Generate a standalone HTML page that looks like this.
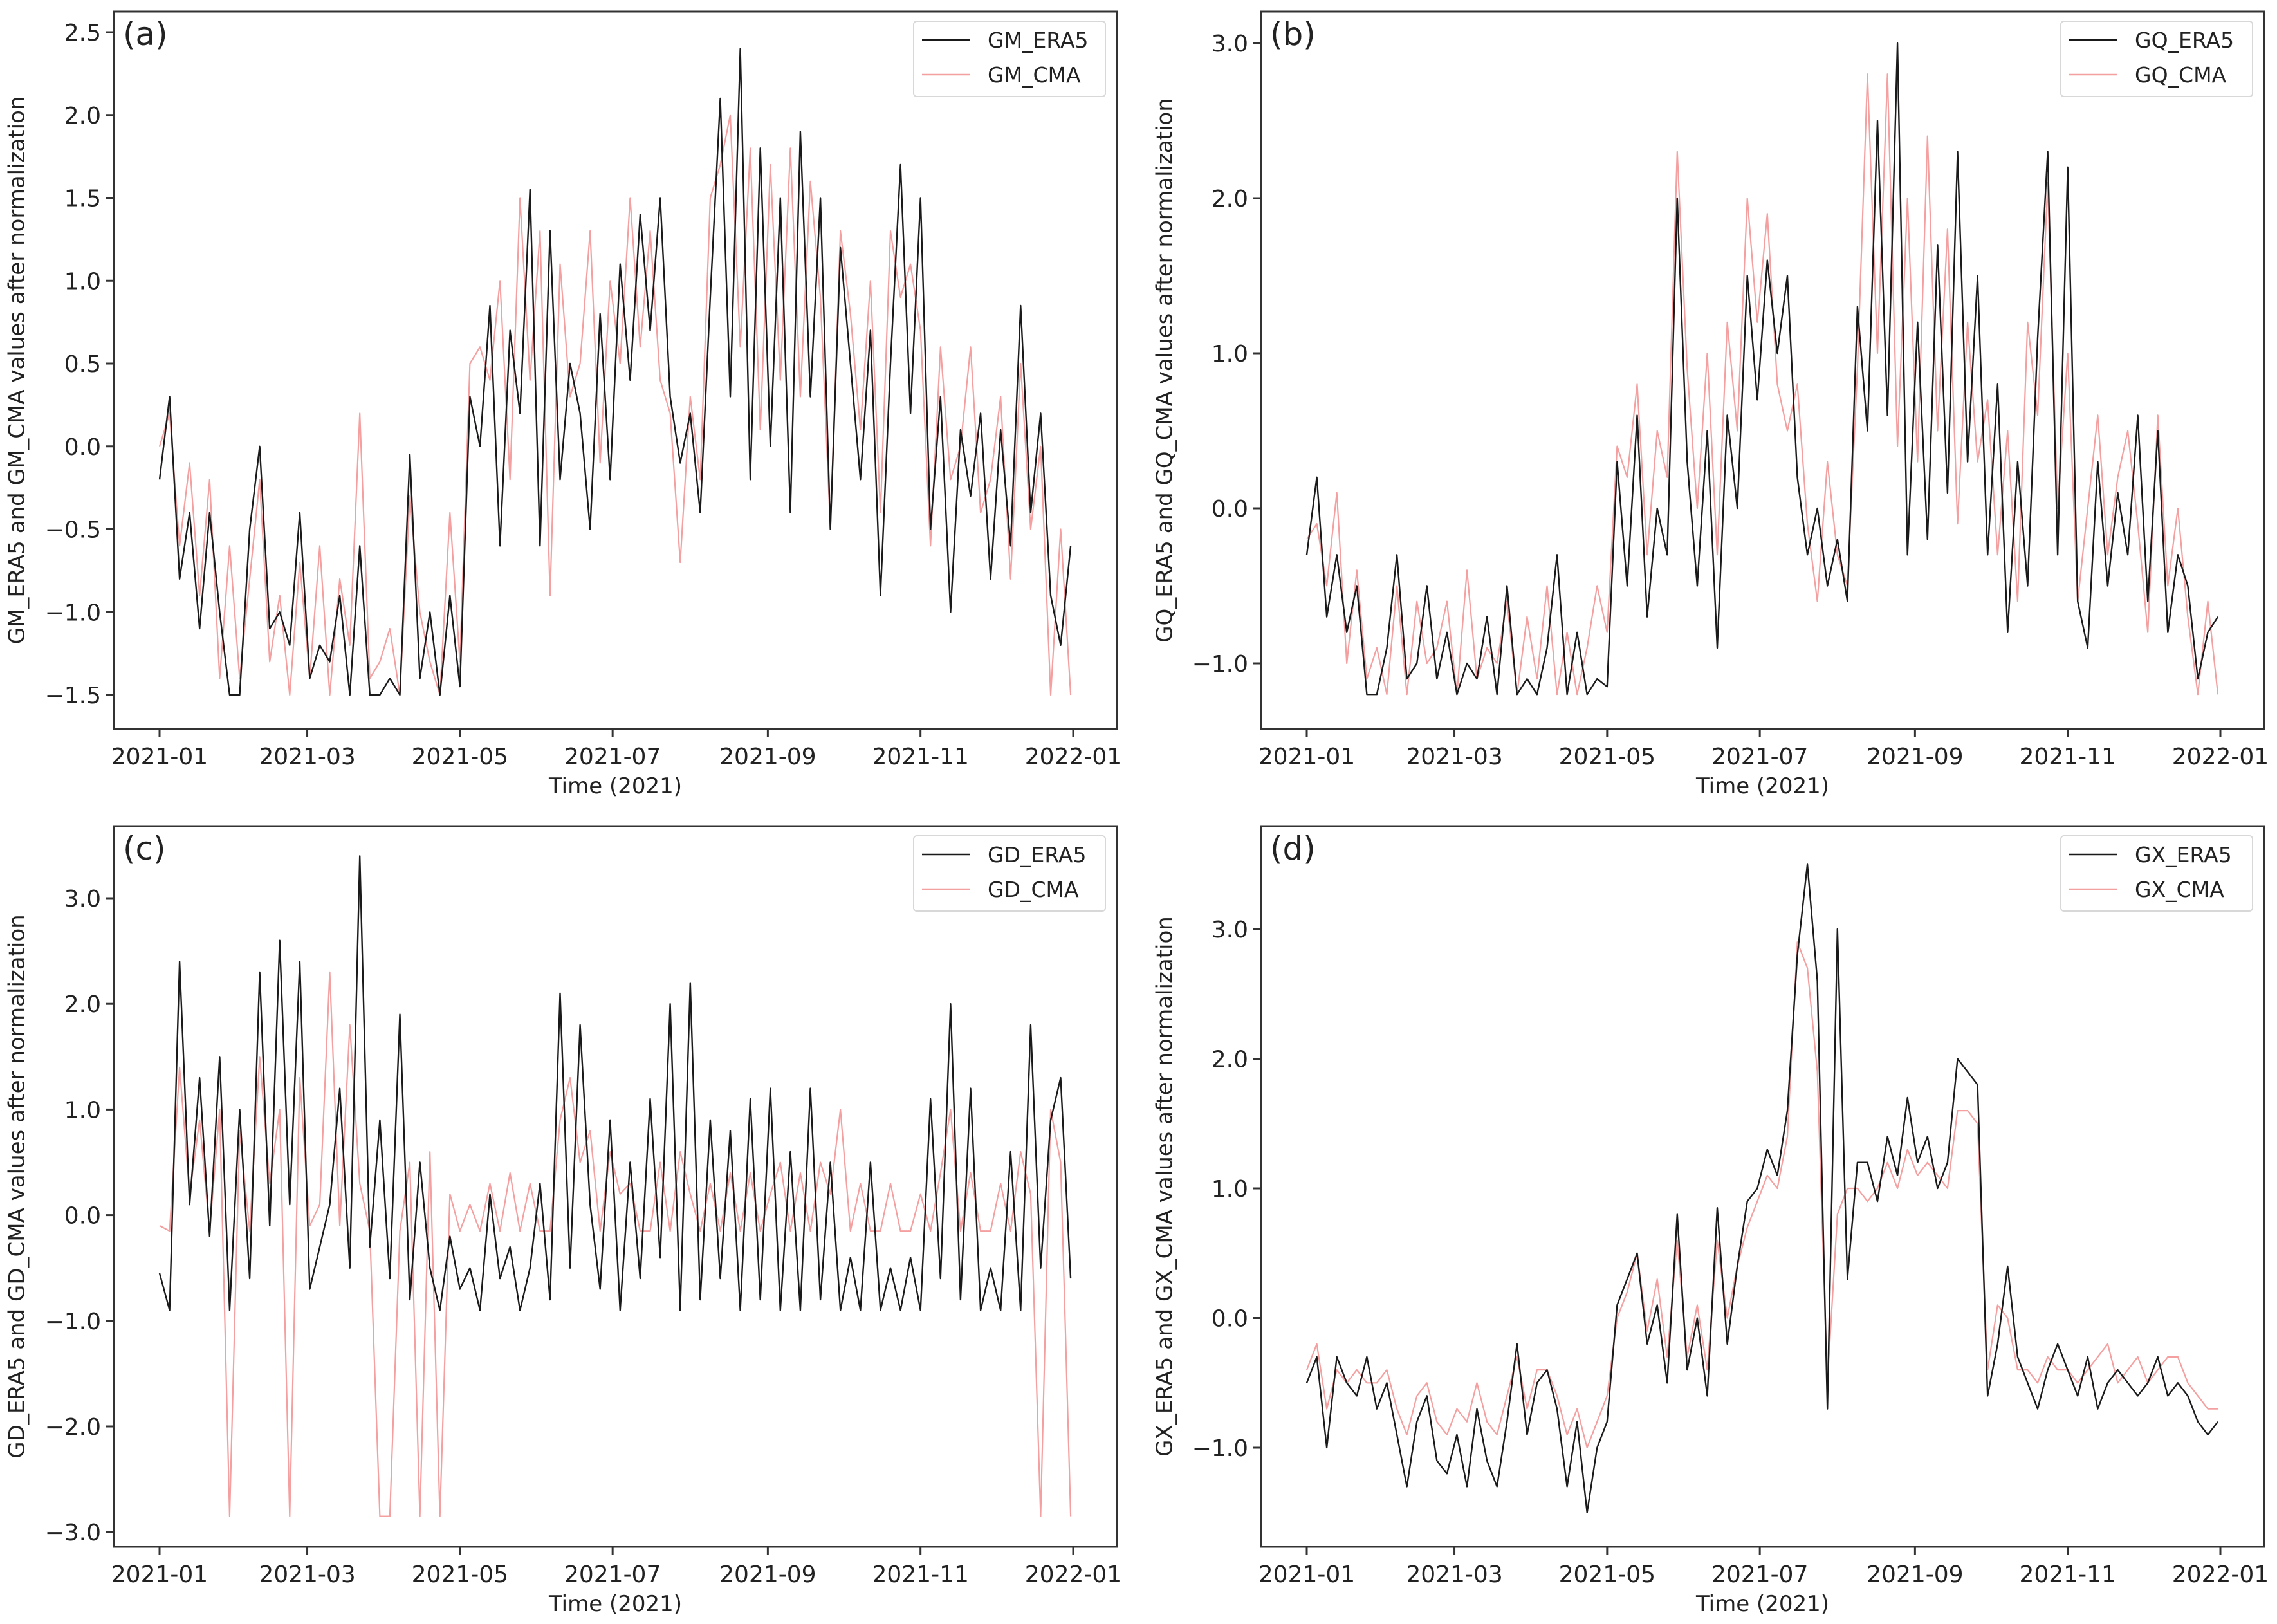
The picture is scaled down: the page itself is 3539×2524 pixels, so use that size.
<!DOCTYPE html>
<html><head><meta charset="utf-8">
<style>
html,body{margin:0;padding:0;background:#fff;}
svg{display:block;font-family:"DejaVu Sans","Liberation Sans",sans-serif;}
</style></head>
<body>
<svg id="fig" width="3539" height="2524" viewBox="0 0 3539 2524" xmlns="http://www.w3.org/2000/svg"></svg>
<script>
const xTickDays=[0,59,120,181,243,304,365];
const xTickLabels=["2021-01","2021-03","2021-05","2021-07","2021-09","2021-11","2022-01"];

const gmEra=[-0.2,0.3,-0.8,-0.4,-1.1,-0.4,-1.0,-1.5,-1.5,-0.5,0.0,-1.1,-1.0,-1.2,-0.4,-1.4,-1.2,-1.3,-0.9,-1.5,-0.6,-1.5,-1.5,-1.4,-1.5,-0.05,-1.4,-1.0,-1.5,-0.9,-1.45,0.3,0.0,0.85,-0.6,0.7,0.2,1.55,-0.6,1.3,-0.2,0.5,0.2,-0.5,0.8,-0.2,1.1,0.4,1.4,0.7,1.5,0.3,-0.1,0.2,-0.4,0.9,2.1,0.3,2.4,-0.2,1.8,0.0,1.5,-0.4,1.9,0.3,1.5,-0.5,1.2,0.5,-0.2,0.7,-0.9,0.5,1.7,0.2,1.5,-0.5,0.3,-1.0,0.1,-0.3,0.2,-0.8,0.1,-0.6,0.85,-0.4,0.2,-0.9,-1.2,-0.6];
const gmCma=[0.0,0.2,-0.6,-0.1,-0.9,-0.2,-1.4,-0.6,-1.4,-0.8,-0.2,-1.3,-0.9,-1.5,-0.7,-1.4,-0.6,-1.5,-0.8,-1.2,0.2,-1.4,-1.3,-1.1,-1.5,-0.3,-1.0,-1.3,-1.5,-0.4,-1.3,0.5,0.6,0.4,1.0,-0.2,1.5,0.4,1.3,-0.9,1.1,0.3,0.5,1.3,-0.1,1.0,0.5,1.5,0.6,1.3,0.4,0.2,-0.7,0.3,-0.2,1.5,1.7,2.0,0.6,1.8,0.1,1.7,0.4,1.8,0.3,1.6,0.9,-0.5,1.3,0.8,0.1,1.0,-0.4,1.3,0.9,1.1,0.7,-0.6,0.6,-0.2,0.0,0.6,-0.4,-0.2,0.3,-0.8,0.5,-0.5,0.0,-1.5,-0.5,-1.5];
const gqEra=[-0.3,0.2,-0.7,-0.3,-0.8,-0.5,-1.2,-1.2,-0.9,-0.3,-1.1,-1.0,-0.5,-1.1,-0.8,-1.2,-1.0,-1.1,-0.7,-1.2,-0.5,-1.2,-1.1,-1.2,-0.9,-0.3,-1.2,-0.8,-1.2,-1.1,-1.15,0.3,-0.5,0.6,-0.7,0.0,-0.3,2.0,0.3,-0.5,0.5,-0.9,0.6,0.0,1.5,0.7,1.6,1.0,1.5,0.2,-0.3,0.0,-0.5,-0.2,-0.6,1.3,0.5,2.5,0.6,3.0,-0.3,1.2,-0.2,1.7,0.1,2.3,0.3,1.5,-0.3,0.8,-0.8,0.3,-0.5,1.1,2.3,-0.3,2.2,-0.6,-0.9,0.3,-0.5,0.1,-0.3,0.6,-0.6,0.5,-0.8,-0.3,-0.5,-1.1,-0.8,-0.7];
const gqCma=[-0.2,-0.1,-0.5,0.1,-1.0,-0.4,-1.1,-0.9,-1.2,-0.5,-1.2,-0.6,-1.0,-0.9,-0.6,-1.2,-0.4,-1.1,-0.9,-1.0,-0.6,-1.2,-0.7,-1.1,-0.5,-1.2,-0.8,-1.2,-0.9,-0.5,-0.8,0.4,0.2,0.8,-0.3,0.5,0.2,2.3,0.9,0.0,1.0,-0.3,1.2,0.5,2.0,1.2,1.9,0.8,0.5,0.8,-0.1,-0.6,0.3,-0.3,-0.5,0.9,2.8,1.0,2.8,0.4,2.0,0.3,2.4,0.5,1.8,-0.1,1.2,0.3,0.7,-0.3,0.5,-0.6,1.2,0.6,2.1,0.0,1.0,-0.6,0.0,0.6,-0.3,0.2,0.5,-0.1,-0.8,0.6,-0.5,0.0,-0.7,-1.2,-0.6,-1.2];
const gdEra=[-0.55,-0.9,2.4,0.1,1.3,-0.2,1.5,-0.9,1.0,-0.6,2.3,-0.1,2.6,0.1,2.4,-0.7,-0.3,0.1,1.2,-0.5,3.4,-0.3,0.9,-0.6,1.9,-0.8,0.5,-0.5,-0.9,-0.2,-0.7,-0.5,-0.9,0.2,-0.6,-0.3,-0.9,-0.5,0.3,-0.8,2.1,-0.5,1.8,0.1,-0.7,0.9,-0.9,0.5,-0.6,1.1,-0.4,2.0,-0.9,2.2,-0.8,0.9,-0.6,0.8,-0.9,1.1,-0.8,1.2,-0.9,0.6,-0.9,1.2,-0.8,0.5,-0.9,-0.4,-0.9,0.5,-0.9,-0.5,-0.9,-0.4,-0.9,1.1,-0.6,2.0,-0.8,1.2,-0.9,-0.5,-0.9,0.6,-0.9,1.8,-0.5,0.9,1.3,-0.6];
const gdCma=[-0.1,-0.15,1.4,0.2,0.9,-0.15,1.0,-2.85,0.8,-0.15,1.5,0.3,1.0,-2.85,1.3,-0.1,0.1,2.3,-0.1,1.8,0.3,-0.15,-2.85,-2.85,-0.15,0.5,-2.85,0.6,-2.85,0.2,-0.15,0.1,-0.15,0.3,-0.15,0.4,-0.15,0.3,-0.15,-0.15,0.9,1.3,0.5,0.8,-0.15,0.6,0.2,0.3,-0.15,-0.15,0.5,-0.15,0.6,0.2,-0.15,0.3,-0.15,0.4,-0.15,0.4,-0.15,0.2,0.5,-0.15,0.4,-0.15,0.5,0.2,1.0,-0.15,0.3,-0.15,-0.15,0.3,-0.15,-0.15,0.2,-0.15,0.4,1.0,-0.15,0.4,-0.15,-0.15,0.3,-0.15,0.6,0.2,-2.85,1.0,0.5,-2.85];
const gxEra=[-0.5,-0.3,-1.0,-0.3,-0.5,-0.6,-0.3,-0.7,-0.5,-0.9,-1.3,-0.8,-0.6,-1.1,-1.2,-0.9,-1.3,-0.7,-1.1,-1.3,-0.8,-0.2,-0.9,-0.5,-0.4,-0.7,-1.3,-0.8,-1.5,-1.0,-0.8,0.1,0.3,0.5,-0.2,0.1,-0.5,0.8,-0.4,0.0,-0.6,0.85,-0.2,0.4,0.9,1.0,1.3,1.1,1.6,2.8,3.5,2.6,-0.7,3.0,0.3,1.2,1.2,0.9,1.4,1.1,1.7,1.2,1.4,1.0,1.2,2.0,1.9,1.8,-0.6,-0.2,0.4,-0.3,-0.5,-0.7,-0.4,-0.2,-0.4,-0.6,-0.3,-0.7,-0.5,-0.4,-0.5,-0.6,-0.5,-0.3,-0.6,-0.5,-0.6,-0.8,-0.9,-0.8];
const gxCma=[-0.4,-0.2,-0.7,-0.4,-0.5,-0.4,-0.5,-0.5,-0.4,-0.7,-0.9,-0.6,-0.5,-0.8,-0.9,-0.7,-0.8,-0.5,-0.8,-0.9,-0.6,-0.3,-0.7,-0.4,-0.4,-0.6,-0.9,-0.7,-1.0,-0.8,-0.6,0.0,0.2,0.5,-0.1,0.3,-0.3,0.6,-0.3,0.1,-0.4,0.6,0.0,0.4,0.7,0.9,1.1,1.0,1.4,2.9,2.7,1.9,-0.5,0.8,1.0,1.0,0.9,1.0,1.2,1.0,1.3,1.1,1.2,1.1,1.0,1.6,1.6,1.5,-0.4,0.1,0.0,-0.4,-0.4,-0.5,-0.3,-0.4,-0.4,-0.5,-0.4,-0.3,-0.2,-0.5,-0.4,-0.3,-0.5,-0.4,-0.3,-0.3,-0.5,-0.6,-0.7,-0.7];

const yTicksA=[-1.5,-1.0,-0.5,0.0,0.5,1.0,1.5,2.0,2.5];
const yTicksB=[-1.0,0.0,1.0,2.0,3.0];
const yTicksC=[-3.0,-2.0,-1.0,0.0,1.0,2.0,3.0];
const yTicksD=[-1.0,0.0,1.0,2.0,3.0];

const NS="http://www.w3.org/2000/svg";
const svg=document.getElementById('fig');
function mk(tag,attrs,parent){const e=document.createElementNS(NS,tag);for(const k in attrs)e.setAttribute(k,attrs[k]);(parent||svg).appendChild(e);return e;}
function fmt(v){const s=v.toFixed(1);return v<0?'\u2212'+s.slice(1):s;}

const panels=[
 {id:'a',L:177,R:1736,T:18,B:1133,y0v:2.5,y0p:50,ppu:257.5,ticks:yTicksA,era:gmEra,cma:gmCma,name:'GM',ylx:28},
 {id:'b',L:1960,R:3519,T:18,B:1133,y0v:3.0,y0p:67,ppu:241,ticks:yTicksB,era:gqEra,cma:gqCma,name:'GQ',ylx:1812},
 {id:'c',L:177,R:1736,T:1284,B:2404,y0v:3.0,y0p:1396,ppu:164.2,ticks:yTicksC,era:gdEra,cma:gdCma,name:'GD',ylx:28},
 {id:'d',L:1960,R:3519,T:1284,B:2404,y0v:3.0,y0p:1444,ppu:201.5,ticks:yTicksD,era:gxEra,cma:gxCma,name:'GX',ylx:1812}
];

panels.forEach(p=>{
 const g=mk('g',{});
 
 
 const xs=d=>p.L+71+d*(1420/365);
 const ys=v=>p.y0p+(p.y0v-v)*p.ppu;
 const clipId='clip'+p.id;
 const cp=mk('clipPath',{id:clipId},g);mk('rect',{x:p.L,y:p.T,width:p.R-p.L,height:p.B-p.T},cp);
 // series
 function line(arr,color,w,nm){
  const n=arr.length;let d='';
  arr.forEach((v,i)=>{const day=i*364/(n-1);d+=(i?'L':'M')+xs(day).toFixed(1)+','+ys(v).toFixed(1);});
  const pl=mk('path',{d:d,fill:'none',stroke:color,'stroke-width':w,'stroke-linejoin':'round','clip-path':'url(#'+clipId+')'},g);
  
  
 }
 line(p.cma,'#f4a0a0',2.2,p.name.toLowerCase()+'-cma-line');
 line(p.era,'#1a1a1a',2.4,p.name.toLowerCase()+'-era5-line');
 // frame
 const fr=mk('rect',{x:p.L,y:p.T,width:p.R-p.L,height:p.B-p.T,fill:'none',stroke:'#333','stroke-width':3},g);
 
 
 // x ticks
 xTickDays.forEach((d,i)=>{
  const x=xs(d);
  mk('line',{x1:x,x2:x,y1:p.B,y2:p.B+12,stroke:'#333','stroke-width':3},g);
  const t=mk('text',{x:x,y:p.B+55,'font-size':36,'text-anchor':'middle',fill:'#222'},g);
  t.textContent=xTickLabels[i];
  
  
 });
 // y ticks
 p.ticks.forEach(v=>{
  const y=ys(v);
  mk('line',{x1:p.L-12,x2:p.L,y1:y,y2:y,stroke:'#333','stroke-width':3},g);
  const t=mk('text',{x:p.L-20,y:y+13,'font-size':36,'text-anchor':'end',fill:'#222'},g);
  t.textContent=fmt(v);
  
  
 });
 // labels
 const xl=mk('text',{x:(p.L+p.R)/2,y:p.B+100,'font-size':34,'text-anchor':'middle',fill:'#222'},g);
 xl.textContent='Time (2021)';
 
 
 const cy=(p.T+p.B)/2;
 const yl=mk('text',{x:p.ylx,y:cy,'font-size':34,'text-anchor':'middle',fill:'#222',transform:'rotate(-90 '+p.ylx+' '+cy+')','dominant-baseline':'middle'},g);
 yl.textContent=p.name+'_ERA5 and '+p.name+'_CMA values after normalization';
 
 
 const pl=mk('text',{x:p.L+14,y:p.T+52,'font-size':50,fill:'#222'},g);
 pl.textContent='('+p.id+')';
 
 
 // legend
 const lg=mk('g',{},g);
 
 
 const lx=p.R-316,ly=p.T+15;
 mk('rect',{x:lx,y:ly,width:298,height:117,rx:5,fill:'#fff',stroke:'#d8d8d8','stroke-width':2},lg);
 mk('line',{x1:lx+13,x2:lx+87,y1:ly+29,y2:ly+29,stroke:'#1a1a1a','stroke-width':2.5},lg);
 mk('line',{x1:lx+13,x2:lx+87,y1:ly+83,y2:ly+83,stroke:'#f4a0a0','stroke-width':2.5},lg);
 const t1=mk('text',{x:lx+115,y:ly+41,'font-size':33,fill:'#222'},lg);t1.textContent=p.name+'_ERA5';
 
 
 const t2=mk('text',{x:lx+115,y:ly+95,'font-size':33,fill:'#222'},lg);t2.textContent=p.name+'_CMA';
 
 
});
</script>
</body></html>
